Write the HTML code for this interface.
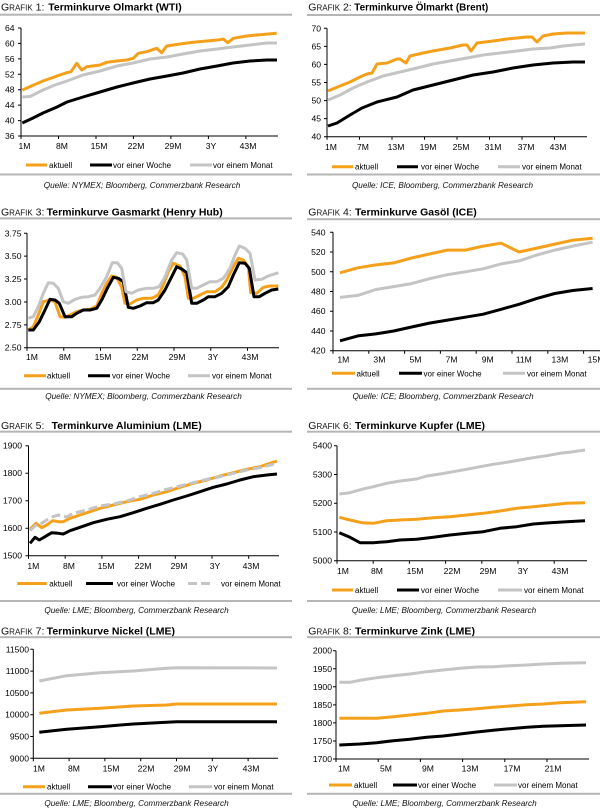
<!DOCTYPE html>
<html><head><meta charset="utf-8"><style>
html,body{margin:0;padding:0;background:#fff;}
svg{display:block;font-family:"Liberation Sans",Arial,sans-serif;}
.ax{stroke:#000;stroke-width:1;fill:none;}
.o{stroke:#f5a01a;stroke-width:3;fill:none;stroke-linejoin:round;stroke-linecap:butt;}
.k{stroke:#000;stroke-width:3;fill:none;stroke-linejoin:round;}
.g{stroke:#c4c4c4;stroke-width:3;fill:none;stroke-linejoin:round;}
.gd{stroke:#c4c4c4;stroke-width:3;fill:none;stroke-dasharray:9 4;}
.yl{font-size:8.6px;text-anchor:end;fill:#000;}
.xl{font-size:8.6px;text-anchor:middle;fill:#000;}
.lg{font-size:8px;fill:#000;}
.src{font-size:8.2px;font-style:italic;text-anchor:middle;fill:#111;}
.tb{font-size:10.4px;font-weight:bold;fill:#000;}
.tp{fill:#111;}
.rule{fill:#b5b5b5;}
</style></head><body>
<svg width="600" height="809" viewBox="0 0 600 809" xmlns="http://www.w3.org/2000/svg">
<rect width="600" height="809" fill="#fff"/>

<!-- ===== CHART 1 ===== -->
<text class="tp" x="1" y="10.5"><tspan font-size="10.5">G</tspan><tspan font-size="8">RAFIK</tspan><tspan font-size="10.5"> 1:</tspan></text>
<text class="tb" x="48.3" y="10.5" textLength="133.4" lengthAdjust="spacingAndGlyphs">Terminkurve Olmarkt (WTI)</text>
<rect class="rule" x="0" y="13.7" width="292" height="2"/>
<path class="ax" d="M21,28V136H278"/>
<path class="ax" d="M18,28H21M18,43.43H21M18,58.86H21M18,74.29H21M18,89.71H21M18,105.14H21M18,120.57H21M18,136H21"/>
<path class="ax" d="M21,136V139M58.5,136V139M96,136V139M133.4,136V139M170.9,136V139M208.4,136V139M245.9,136V139"/>
<text class="yl" x="14.5" y="31">64</text><text class="yl" x="14.5" y="46.4">60</text><text class="yl" x="14.5" y="61.9">56</text><text class="yl" x="14.5" y="77.3">52</text><text class="yl" x="14.5" y="92.7">48</text><text class="yl" x="14.5" y="108.1">44</text><text class="yl" x="14.5" y="123.6">40</text><text class="yl" x="14.5" y="139">36</text>
<text class="xl" x="24.5" y="149">1M</text><text class="xl" x="62" y="149">8M</text><text class="xl" x="99" y="149">15M</text><text class="xl" x="136" y="149">22M</text><text class="xl" x="173" y="149">29M</text><text class="xl" x="211" y="149">3Y</text><text class="xl" x="248" y="149">43M</text>
<polyline class="o" points="22.3,90 43,81 66.7,72.7 71,71.7 76.7,63.3 81.7,70 86.7,66.7 100,65 106.7,62.3 116.7,61 126.7,60 133.3,58.3 138.3,53.3 146.7,51.7 156.7,48.3 161.7,52.7 166.7,46 180,44 193.3,42.3 206.7,41 220,39.7 223.3,39 227.7,42.7 233.3,38.3 246.7,36 260,34.7 276.7,33.3"/>
<polyline class="k" points="22.3,123 33,118 43,113 57,107 67,102 83,97 100,92 117,87 133,83 150,79 167,76 183,73 200,69 217,66 233,63 250,61 267,60 277,60"/>
<polyline class="g" points="22.3,97 30,96.5 33,95 43,90 55,85 67,81 83,75 100,71 117,66 133,63 150,59 167,57 183,54 200,51 217,49 233,47 250,45 267,43 277,43"/>
<line class="o" x1="26" y1="165" x2="47" y2="165"/><text class="lg" x="49" y="168">aktuell</text>
<line class="k" x1="90" y1="165" x2="112" y2="165"/><text class="lg" x="113" y="168">vor einer Woche</text>
<line class="g" x1="190" y1="165" x2="212" y2="165"/><text class="lg" x="213" y="168">vor einem Monat</text>
<rect class="rule" x="0" y="173.5" width="292" height="2"/>
<text class="src" x="142" y="188">Quelle: NYMEX; Bloomberg, Commerzbank Research</text>

<!-- ===== CHART 2 ===== -->
<text class="tp" x="308.3" y="10.5"><tspan font-size="10.5">G</tspan><tspan font-size="8">RAFIK</tspan><tspan font-size="10.5"> 2:</tspan></text>
<text class="tb" x="354.3" y="10.5" textLength="134" lengthAdjust="spacingAndGlyphs">Terminkurve Ölmarkt (Brent)</text>
<rect class="rule" x="307" y="14" width="293" height="2"/>
<path class="ax" d="M327,28.3V136.7H587"/>
<path class="ax" d="M324,28.3H327M324,46.37H327M324,64.43H327M324,82.5H327M324,100.57H327M324,118.63H327M324,136.7H327"/>
<path class="ax" d="M327,136.7V139.7M359.5,136.7V139.7M392,136.7V139.7M424.5,136.7V139.7M457,136.7V139.7M489.5,136.7V139.7M522,136.7V139.7M554.5,136.7V139.7"/>
<text class="yl" x="321" y="31.3">70</text><text class="yl" x="321" y="49.4">65</text><text class="yl" x="321" y="67.4">60</text><text class="yl" x="321" y="85.5">55</text><text class="yl" x="321" y="103.6">50</text><text class="yl" x="321" y="121.6">45</text><text class="yl" x="321" y="139.7">40</text>
<text class="xl" x="331" y="150">1M</text><text class="xl" x="363" y="150">7M</text><text class="xl" x="396" y="150">13M</text><text class="xl" x="428" y="150">19M</text><text class="xl" x="461" y="150">25M</text><text class="xl" x="493" y="150">31M</text><text class="xl" x="526" y="150">37M</text><text class="xl" x="558" y="150">43M</text>
<polyline class="o" points="328,91 340,86 350,82 360,77 367,74 372,73 377,64 387,63 397,59 400,59 406,63 410,56 423,53 433,51 450,48 463,45 467,45 471,51 477,43 493,41 507,39 527,37 532,37 537,42 543,36 553,34 567,33 585,33"/>
<polyline class="k" points="328,126 337,123 350,115 362,108 377,102 397,97 413,90 433,85 453,80 473,75 493,72 513,68 533,65 553,63 573,62 585,62"/>
<polyline class="g" points="328,100 340,95 353,88 367,82 383,76 400,72 417,68 433,64 450,61 467,58 483,55 500,53 517,51 533,49 550,48 563,46 585,44"/>
<line class="o" x1="332" y1="166.7" x2="353" y2="166.7"/><text class="lg" x="355" y="169.7">aktuell</text>
<line class="k" x1="397" y1="166.7" x2="418" y2="166.7"/><text class="lg" x="421" y="169.7">vor einer Woche</text>
<line class="g" x1="498" y1="166.7" x2="520" y2="166.7"/><text class="lg" x="522" y="169.7">vor einem Monat</text>
<rect class="rule" x="307" y="173.5" width="293" height="2"/>
<text class="src" x="442.5" y="188">Quelle: ICE, Bloomberg, Commerzbank Research</text>

<!-- ===== CHART 3 ===== -->
<text class="tp" x="1" y="215.3"><tspan font-size="10.5">G</tspan><tspan font-size="8">RAFIK</tspan><tspan font-size="10.5"> 3:</tspan></text>
<text class="tb" x="46.7" y="215.3" textLength="176" lengthAdjust="spacingAndGlyphs">Terminkurve Gasmarkt (Henry Hub)</text>
<rect class="rule" x="0" y="217.4" width="292" height="2"/>
<path class="ax" d="M27,233.3V347.7H279"/>
<path class="ax" d="M24,233.3H27M24,256.18H27M24,279.06H27M24,301.94H27M24,324.82H27M24,347.7H27"/>
<path class="ax" d="M27,347.7V350.7M63.75,347.7V350.7M100.5,347.7V350.7M137.25,347.7V350.7M174,347.7V350.7M210.75,347.7V350.7M247.5,347.7V350.7"/>
<text class="yl" x="21.5" y="236.3">3.75</text><text class="yl" x="21.5" y="259.2">3.50</text><text class="yl" x="21.5" y="282.1">3.25</text><text class="yl" x="21.5" y="304.9">3.00</text><text class="yl" x="21.5" y="327.8">2.75</text><text class="yl" x="21.5" y="350.7">2.50</text>
<text class="xl" x="32" y="360">1M</text><text class="xl" x="65" y="360">8M</text><text class="xl" x="103" y="360">15M</text><text class="xl" x="140" y="360">22M</text><text class="xl" x="177" y="360">29M</text><text class="xl" x="213" y="360">3Y</text><text class="xl" x="250" y="360">43M</text>
<polyline class="o" points="28.3,330 33.3,326.7 38.3,315 43.3,301.7 50,300 55,301.7 60,316.7 65,317.3 70,315 76.7,311.7 83.3,310 90,309.3 96.7,306 101.7,293.3 106.7,283.3 111.7,276 116.7,277.3 121.7,287.3 125,303.3 130,304 136.7,300 143.3,298.3 151.7,298.3 158.3,295 163.3,285 168.3,271.7 173.3,263.3 180,266 185,276.7 188.3,298.3 193.3,298.3 200,295 206.7,291.7 215,291.7 221.7,287.3 226.7,280 233.3,266.7 238.3,258.3 243.3,260 248.3,266.7 250.7,292.7 256.7,293.3 263.3,287.3 270,286 278.3,286"/>
<polyline class="k" points="28.3,330 33.3,330 39.3,321.7 45,310 50,299.3 55,300 59.3,303.3 65,316.7 71.7,316.7 76.7,313.3 83.3,310 90,310 96.7,308.3 101.7,300 107.3,288.3 113.3,277.3 118.3,278.3 123.3,281.7 128.3,307.3 133.3,308.3 140,306 146.7,302.7 153.3,302.7 158.3,300 165,290 171.7,276.7 176.7,266.7 181.7,269 186.7,272.7 191.7,303.3 196.7,303.3 203.3,300 208.3,296.7 215,296.7 221.7,293.3 228.3,286.7 233.3,275 239.3,262.7 245,263.3 249.3,268.3 254,296.7 259.3,296.7 265,293.3 271.7,290 278.3,289"/>
<polyline class="g" points="28.3,318.3 33.3,316.7 38.3,306.7 43.3,293.3 48.3,282.7 53.3,283.3 58.3,288.3 63.3,301.7 68.3,303.3 75,299.3 81.7,297.3 88.3,296.7 95,295 100,288.3 106.7,276.7 112.3,262.7 117.3,262.7 121.7,268.3 126,291.7 131.7,293.3 138.3,290 146.7,288.3 153.3,288.3 159.3,286.7 165,276.7 171.7,260 176.7,252.7 182.7,254 186.7,260 191.7,288.3 196.7,288.3 203.3,285 210,281.7 216.7,281.7 223.3,278.3 230,268.3 235,255 239.3,246 245,248.3 250,253.3 255,280 261.7,279.3 268.3,276 278.3,272.7"/>
<line class="o" x1="24" y1="375.7" x2="46" y2="375.7"/><text class="lg" x="47" y="378.7">aktuell</text>
<line class="k" x1="88" y1="375.7" x2="110" y2="375.7"/><text class="lg" x="112" y="378.7">vor einer Woche</text>
<line class="g" x1="188" y1="375.7" x2="210" y2="375.7"/><text class="lg" x="212" y="378.7">vor einem Monat</text>
<rect class="rule" x="0" y="387.8" width="292" height="2"/>
<text class="src" x="143.5" y="399">Quelle: NYMEX; Bloomberg, Commerzbank Research</text>

<!-- ===== CHART 4 ===== -->
<text class="tp" x="308.3" y="215.3"><tspan font-size="10.5">G</tspan><tspan font-size="8">RAFIK</tspan><tspan font-size="10.5"> 4:</tspan></text>
<text class="tb" x="355" y="215.3" textLength="121.7" lengthAdjust="spacingAndGlyphs">Terminkurve Gasöl (ICE)</text>
<rect class="rule" x="307" y="218.2" width="293" height="2"/>
<path class="ax" d="M333,232.3V350.7H600"/>
<path class="ax" d="M330,232.3H333M330,252.03H333M330,271.77H333M330,291.5H333M330,311.23H333M330,330.97H333M330,350.7H333"/>
<path class="ax" d="M333,350.7V353.7M368.8,350.7V353.7M404.6,350.7V353.7M440.4,350.7V353.7M476.2,350.7V353.7M512,350.7V353.7M547.8,350.7V353.7M583.6,350.7V353.7"/>
<text class="yl" x="325.5" y="235.3">540</text><text class="yl" x="325.5" y="255">520</text><text class="yl" x="325.5" y="274.8">500</text><text class="yl" x="325.5" y="294.5">480</text><text class="yl" x="325.5" y="314.2">460</text><text class="yl" x="325.5" y="334">440</text><text class="yl" x="325.5" y="353.7">420</text>
<text class="xl" x="343.3" y="362.5">1M</text><text class="xl" x="379.4" y="362.5">3M</text><text class="xl" x="415.5" y="362.5">5M</text><text class="xl" x="451.6" y="362.5">7M</text><text class="xl" x="487.7" y="362.5">9M</text><text class="xl" x="523.8" y="362.5">11M</text><text class="xl" x="559.9" y="362.5">13M</text><text class="xl" x="596" y="362.5">15M</text>
<polyline class="o" points="340,272.8 357.9,267.8 375.8,264.9 393.7,262.9 411.6,258 429.5,254 447.4,250.1 465.3,250.1 483.2,246.1 501.1,243.2 519,252 536.9,248.1 554.8,244.1 572.7,240.2 592.6,238.2"/>
<polyline class="k" points="340,340.8 357.9,335.9 375.8,333.9 393.7,331 411.6,327 429.5,323.1 447.4,320.1 465.3,317.2 483.2,314.2 501.1,309.3 519,304.3 536.9,298.4 554.8,293.5 572.7,290.5 592.6,288.5"/>
<polyline class="g" points="340,297.4 357.9,295.4 375.8,289.5 393.7,286.6 411.6,283.6 429.5,278.7 447.4,274.7 465.3,271.8 483.2,268.8 501.1,263.9 519,260.9 536.9,255 554.8,250.1 572.7,246.1 592.6,242.2"/>
<line class="o" x1="332" y1="373.3" x2="355" y2="373.3"/><text class="lg" x="356.5" y="376.3">aktuell</text>
<line class="k" x1="399" y1="373.3" x2="422" y2="373.3"/><text class="lg" x="423.5" y="376.3">vor einer Woche</text>
<line class="g" x1="503" y1="373.3" x2="525" y2="373.3"/><text class="lg" x="527" y="376.3">vor einem Monat</text>
<rect class="rule" x="307" y="387.8" width="293" height="2"/>
<text class="src" x="443" y="399">Quelle: ICE; Bloomberg, Commerzbank Research</text>

<!-- ===== CHART 5 ===== -->
<text class="tp" x="1" y="429"><tspan font-size="10.5">G</tspan><tspan font-size="8">RAFIK</tspan><tspan font-size="10.5"> 5:</tspan></text>
<text class="tb" x="51.7" y="429" textLength="150" lengthAdjust="spacingAndGlyphs">Terminkurve Aluminium (LME)</text>
<rect class="rule" x="0" y="430.7" width="292" height="2"/>
<path class="ax" d="M28.5,445.7V555.7H279"/>
<path class="ax" d="M25.5,445.7H28.5M25.5,473.2H28.5M25.5,500.7H28.5M25.5,528.2H28.5M25.5,555.7H28.5"/>
<path class="ax" d="M28.5,555.7V558.7M65.2,555.7V558.7M101.9,555.7V558.7M138.6,555.7V558.7M175.3,555.7V558.7M212,555.7V558.7M248.7,555.7V558.7"/>
<text class="yl" x="22" y="448.7">1900</text><text class="yl" x="22" y="476.2">1800</text><text class="yl" x="22" y="503.7">1700</text><text class="yl" x="22" y="531.2">1600</text><text class="yl" x="22" y="558.7">1500</text>
<text class="xl" x="33.3" y="569">1M</text><text class="xl" x="69" y="569">8M</text><text class="xl" x="106" y="569">15M</text><text class="xl" x="143" y="569">22M</text><text class="xl" x="179" y="569">29M</text><text class="xl" x="215" y="569">3Y</text><text class="xl" x="251" y="569">43M</text>
<polyline class="o" points="30,529.3 36,523.3 41.7,527.7 46.7,525 52.7,520.7 58.3,521.7 63.3,521.7 70,518.3 80,515 90,511.7 100,508.3 113.3,505 126.7,501.7 140,499.3 153.3,495 166.7,491.7 180,487.3 193.3,483.3 206.7,480 220,476 233.3,472.7 246.7,469.3 260,466.7 277,461"/>
<polyline class="k" points="30,543.3 35,537.3 39.3,540 45,536.7 51.7,532.7 58.3,533.3 63.3,534 70,530.7 80,527.3 93.3,522.7 106.7,519.3 120,516.7 133.3,512.7 146.7,508.3 160,504.3 173.3,500 186.7,496 200,491.7 213.3,487.3 226.7,484 240,480 253.3,476.7 266.7,475 277,474"/>
<polyline class="gd" points="30,530.7 36,525 40,524.3 46.7,520 52.7,516.7 58.3,515 61.7,516.7 66.7,516.7 73.3,513.3 86.7,510 100,506 113.3,504 126.7,501 140,496.7 153.3,493.3 166.7,489.3 180,486 193.3,482.7 206.7,479.3 220,476.7 233.3,473.3 246.7,470 260,467.7 277,463.3"/>
<line class="o" x1="17.3" y1="583.5" x2="46.7" y2="583.5"/><text class="lg" x="49.3" y="586.5">aktuell</text>
<line class="k" x1="86" y1="583.5" x2="113" y2="583.5"/><text class="lg" x="117" y="586.5">vor einer Woche</text>
<line class="gd" x1="188" y1="583.5" x2="214" y2="583.5"/><text class="lg" x="221" y="586.5">vor einem Monat</text>
<rect class="rule" x="0" y="600" width="292" height="2"/>
<text class="src" x="136.5" y="613">Quelle: LME; Bloomberg, Commerzbank Research</text>

<!-- ===== CHART 6 ===== -->
<text class="tp" x="308.3" y="429"><tspan font-size="10.5">G</tspan><tspan font-size="8">RAFIK</tspan><tspan font-size="10.5"> 6:</tspan></text>
<text class="tb" x="355" y="429" textLength="130" lengthAdjust="spacingAndGlyphs">Terminkurve Kupfer (LME)</text>
<rect class="rule" x="307" y="430.7" width="293" height="2"/>
<path class="ax" d="M337,445.7V560.7H587"/>
<path class="ax" d="M334,445.7H337M334,474.45H337M334,503.2H337M334,531.95H337M334,560.7H337"/>
<path class="ax" d="M337,560.7V563.7M373.2,560.7V563.7M409.4,560.7V563.7M445.6,560.7V563.7M481.8,560.7V563.7M518,560.7V563.7M554.2,560.7V563.7"/>
<text class="yl" x="332" y="448.7">5400</text><text class="yl" x="332" y="477.5">5300</text><text class="yl" x="332" y="506.2">5200</text><text class="yl" x="332" y="535">5100</text><text class="yl" x="332" y="563.7">5000</text>
<text class="xl" x="343" y="574">1M</text><text class="xl" x="377" y="574">8M</text><text class="xl" x="415" y="574">15M</text><text class="xl" x="452" y="574">22M</text><text class="xl" x="488" y="574">29M</text><text class="xl" x="523" y="574">3Y</text><text class="xl" x="560" y="574">43M</text>
<polyline class="o" points="339.3,517.3 350,520 361.7,522.7 373.3,523.3 386.7,520.7 400,520 416.7,519.3 433.3,517.7 450,516.7 466.7,515 483.3,513.3 500,511 516.7,508.3 533.3,506.7 550,505 566.7,503.3 585,502.7"/>
<polyline class="k" points="339.3,532.7 350,537.3 360,542.7 373.3,542.7 386.7,541.7 400,540 416.7,539.3 433.3,537.3 450,535 466.7,533.3 483.3,531.7 500,528.3 516.7,526.7 533.3,524 550,522.7 566.7,521.7 585,520.7"/>
<polyline class="g" points="339.3,494 350,492.7 361.7,489.3 373.3,486.7 386.7,483.3 400,481 416.7,479 426.7,476 440,474 453.3,471.7 466.7,469.3 480,466.7 493.3,464.3 506.7,462.3 520,460 533.3,457.7 546.7,455.7 560,453.3 573.3,451.7 585,450"/>
<line class="o" x1="332" y1="590" x2="353" y2="590"/><text class="lg" x="355" y="593">aktuell</text>
<line class="k" x1="397" y1="590" x2="419" y2="590"/><text class="lg" x="421" y="593">vor einer Woche</text>
<line class="g" x1="498" y1="590" x2="522" y2="590"/><text class="lg" x="524" y="593">vor einem Monat</text>
<rect class="rule" x="307" y="600" width="293" height="2"/>
<text class="src" x="444" y="613">Quelle: LME; Bloomberg, Commerzbank Research</text>

<!-- ===== CHART 7 ===== -->
<text class="tp" x="1" y="634.3"><tspan font-size="10.5">G</tspan><tspan font-size="8">RAFIK</tspan><tspan font-size="10.5"> 7:</tspan></text>
<text class="tb" x="46.7" y="634.3" textLength="128.3" lengthAdjust="spacingAndGlyphs">Terminkurve Nickel (LME)</text>
<rect class="rule" x="0" y="636.2" width="292" height="2"/>
<path class="ax" d="M33.3,649.3V758.3H278"/>
<path class="ax" d="M30.3,649.3H33.3M30.3,671.1H33.3M30.3,692.9H33.3M30.3,714.7H33.3M30.3,736.5H33.3M30.3,758.3H33.3"/>
<path class="ax" d="M33.3,758.3V761.3M69.1,758.3V761.3M104.9,758.3V761.3M140.7,758.3V761.3M176.5,758.3V761.3M212.3,758.3V761.3M248.1,758.3V761.3"/>
<text class="yl" x="29" y="652.3">11500</text><text class="yl" x="29" y="674.1">11000</text><text class="yl" x="29" y="695.9">10500</text><text class="yl" x="29" y="717.7">10000</text><text class="yl" x="29" y="739.5">9500</text><text class="yl" x="29" y="761.3">9000</text>
<text class="xl" x="39" y="771.5">1M</text><text class="xl" x="74" y="771.5">8M</text><text class="xl" x="111" y="771.5">15M</text><text class="xl" x="146" y="771.5">22M</text><text class="xl" x="182" y="771.5">29M</text><text class="xl" x="213" y="771.5">3Y</text><text class="xl" x="251" y="771.5">43M</text>
<polyline class="o" points="39.3,713.3 66.7,710 100,708.3 133.3,706 166.7,705 176.7,704 277,704"/>
<polyline class="k" points="39.3,732.3 66.7,729.3 100,726.7 133.3,724 166.7,722.3 176.7,721.7 277,721.7"/>
<polyline class="g" points="39.3,681 66.7,675.7 100,672.7 133.3,671 166.7,668.3 176.7,667.7 277,668"/>
<line class="o" x1="23" y1="786.7" x2="45" y2="786.7"/><text class="lg" x="47" y="789.7">aktuell</text>
<line class="k" x1="88" y1="786.7" x2="112" y2="786.7"/><text class="lg" x="113" y="789.7">vor einer Woche</text>
<line class="g" x1="189" y1="786.7" x2="212" y2="786.7"/><text class="lg" x="214" y="789.7">vor einem Monat</text>
<rect class="rule" x="0" y="792.8" width="292" height="2"/>
<text class="src" x="136.5" y="806">Quelle: LME; Bloomberg, Commerzbank Research</text>

<!-- ===== CHART 8 ===== -->
<text class="tp" x="308.3" y="634.3"><tspan font-size="10.5">G</tspan><tspan font-size="8">RAFIK</tspan><tspan font-size="10.5"> 8:</tspan></text>
<text class="tb" x="355" y="634.3" textLength="120" lengthAdjust="spacingAndGlyphs">Terminkurve Zink (LME)</text>
<rect class="rule" x="307" y="636.2" width="293" height="2"/>
<path class="ax" d="M336,650.7V759H589"/>
<path class="ax" d="M333,650.7H336M333,668.75H336M333,686.8H336M333,704.85H336M333,722.9H336M333,740.95H336M333,759H336"/>
<path class="ax" d="M336,759V762M378.2,759V762M420.4,759V762M462.6,759V762M504.8,759V762M547,759V762"/>
<text class="yl" x="332" y="653.7">2000</text><text class="yl" x="332" y="671.8">1950</text><text class="yl" x="332" y="689.8">1900</text><text class="yl" x="332" y="707.9">1850</text><text class="yl" x="332" y="725.9">1800</text><text class="yl" x="332" y="744">1750</text><text class="yl" x="332" y="762">1700</text>
<text class="xl" x="344" y="771.5">1M</text><text class="xl" x="386" y="771.5">5M</text><text class="xl" x="428" y="771.5">9M</text><text class="xl" x="470" y="771.5">13M</text><text class="xl" x="512" y="771.5">17M</text><text class="xl" x="553" y="771.5">21M</text>
<polyline class="o" points="339.3,718.3 360,718.3 376.7,718.3 393.3,716.7 410,715 426.7,713.3 443.3,711 460,710 476.7,708.7 493.3,707.3 510,706 526.7,704.7 543.3,704 560,702.7 586,701.7"/>
<polyline class="k" points="339.3,745 360,744 376.7,742.7 393.3,740.7 410,739.3 426.7,737.3 443.3,736 460,734 476.7,732 493.3,730.3 510,728.7 526.7,727.3 543.3,726.3 560,725.7 586,725"/>
<polyline class="g" points="339.3,682.3 350,682.3 361.7,680 376.7,677.7 393.3,675.7 410,674 426.7,671.7 443.3,670 460,668.3 476.7,667 493.3,666.7 510,665.7 526.7,665 543.3,664 560,663.3 586,662.7"/>
<line class="o" x1="329" y1="785" x2="352" y2="785"/><text class="lg" x="354" y="788">aktuell</text>
<line class="k" x1="393" y1="785" x2="417" y2="785"/><text class="lg" x="418" y="788">vor einer Woche</text>
<line class="g" x1="494" y1="785" x2="517" y2="785"/><text class="lg" x="518" y="788">vor einem Monat</text>
<rect class="rule" x="307" y="792.8" width="293" height="2"/>
<text class="src" x="444.5" y="806">Quelle: LME; Bloomberg, Commerzbank Research</text>
</svg>
</body></html>
